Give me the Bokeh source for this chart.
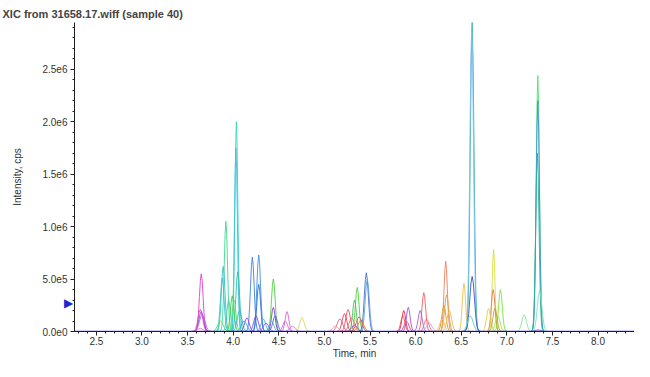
from bokeh.plotting import figure
from bokeh.models import FixedTicker, Label, ColumnDataSource, Range1d
from bokeh.embed import file_html
from bokeh.resources import INLINE

TITLE = "XIC from 31658.17.wiff (sample 40)"
X_LABEL = "Time, min"
Y_LABEL = "Intensity, cps"

X_TICKS = [2.5, 3.0, 3.5, 4.0, 4.5, 5.0, 5.5, 6.0, 6.5, 7.0, 7.5, 8.0]
X_TICK_LABELS = ["2.5", "3.0", "3.5", "4.0", "4.5", "5.0", "5.5", "6.0", "6.5", "7.0", "7.5", "8.0"]
X_MINOR = [round(2.3 + 0.1 * i, 1) for i in range(63)]
Y_TICKS = [0, 500000, 1000000, 1500000, 2000000, 2500000]
Y_TICK_LABELS = ["0.0e0", "5.0e5", "1.0e6", "1.5e6", "2.0e6", "2.5e6"]
Y_MINOR = [100000 * i for i in range(30)]

# retention time (min), apex intensity (cps), peak width (min), trace colour
PEAK_TIME = [3.65, 3.64, 3.65, 3.66, 3.64,
             3.92, 3.89, 3.88, 3.86, 3.95,
             4.035, 4.03, 4.05, 3.99, 4.01, 4.07,
             4.21, 4.28, 4.28, 4.15, 4.25, 4.33, 4.12, 4.36,
             4.44, 4.44, 4.46, 4.42,
             4.59, 4.57, 4.755, 4.65,
             5.17, 5.26, 5.22, 5.30, 5.36, 5.33, 5.46, 5.47, 5.40, 5.38, 5.33, 5.12,
             5.87, 5.86, 5.92, 5.90,
             6.09, 6.05, 6.12, 6.15,
             6.33, 6.34, 6.31, 6.37, 6.29,
             6.53, 6.62, 6.615, 6.62, 6.60,
             6.855, 6.85, 6.93, 6.80, 6.87, 6.90,
             7.19, 7.34, 7.34, 7.335, 7.36, 7.34]
PEAK_HEIGHT = [550000, 210000, 190000, 160000, 30000,
               1050000, 620000, 510000, 100000, 300000,
               2000000, 1750000, 570000, 340000, 300000, 200000,
               710000, 730000, 450000, 130000, 150000, 120000, 100000, 80000,
               500000, 230000, 150000, 100000,
               190000, 100000, 130000, 50000,
               120000, 210000, 170000, 130000, 420000, 300000, 560000, 500000, 110000, 140000, 60000, 50000,
               200000, 150000, 230000, 100000,
               370000, 200000, 120000, 80000,
               670000, 350000, 250000, 200000, 120000,
               460000, 2950000, 2900000, 525000, 150000,
               785000, 400000, 400000, 220000, 220000, 150000,
               160000, 2440000, 2200000, 1700000, 390000, 15000]
PEAK_WIDTH = [0.02, 0.025, 0.025, 0.03, 0.03,
              0.018, 0.02, 0.02, 0.03, 0.02,
              0.016, 0.016, 0.02, 0.02, 0.02, 0.025,
              0.02, 0.02, 0.02, 0.025, 0.025, 0.025, 0.03, 0.03,
              0.02, 0.02, 0.025, 0.025,
              0.02, 0.025, 0.025, 0.03,
              0.03, 0.025, 0.025, 0.03, 0.02, 0.02, 0.022, 0.022, 0.03, 0.03, 0.03, 0.03,
              0.02, 0.022, 0.02, 0.025,
              0.02, 0.022, 0.025, 0.03,
              0.018, 0.022, 0.022, 0.025, 0.025,
              0.018, 0.02, 0.02, 0.025, 0.03,
              0.015, 0.02, 0.02, 0.022, 0.022, 0.025,
              0.025, 0.018, 0.018, 0.018, 0.025, 0.03]
PEAK_COLOR = ["#e040d0", "#d050c0", "#a040d0", "#c060e0", "#f080a0",
              "#40d890", "#30c8c0", "#40c0d0", "#60e060", "#40d0a0",
              "#30d8c0", "#40c0e0", "#30c0a0", "#40d040", "#60e080", "#40b0e0",
              "#4080e0", "#4090e8", "#3070d0", "#a040e0", "#8050e0", "#60a0f0", "#30b0e0", "#9060e0",
              "#50d040", "#8040d0", "#6060e0", "#40c0c0",
              "#e060d0", "#d070e0", "#e0d060", "#c080f0",
              "#f06080", "#f05070", "#e04060", "#f07060", "#50d040", "#40c060", "#4070d0", "#60a0e0",
              "#f08040", "#e05050", "#a050e0", "#f0a0a0",
              "#e03040", "#f05060", "#a050e0", "#e040a0",
              "#f06060", "#a060e0", "#e07080", "#c0a0f0",
              "#f08060", "#e0a040", "#d0a030", "#e0c050", "#f0c060",
              "#f0c050", "#30b0a0", "#80c0f0", "#4050c0", "#60d0b0",
              "#d8e040", "#e08040", "#80e040", "#e0d060", "#c0a040", "#a0e050",
              "#90e0a0", "#50e070", "#4090e0", "#30b0a0", "#80e0c0", "#8050d0"]

# normalised peak profile (offset in widths, relative intensity)
PROFILE_OFFSET = [-4.0, -3.0, -2.5, -2.0, -1.5, -1.0, -0.5, 0.0, 0.5, 1.0, 1.5, 2.0, 2.5, 3.0, 4.0]
PROFILE_SHAPE = [0.0, 0.011, 0.044, 0.135, 0.325, 0.607, 0.882, 1.0, 0.882, 0.607, 0.325, 0.135, 0.044, 0.011, 0.0]

BASELINE_TIME = [2.26, 8.40]
BASELINE_INT = [0, 0]
BASELINE_COLOR = "#3a3ad0"

ARROW_INT = 267000

xs, ys = [], []
for t, h, w in zip(PEAK_TIME, PEAK_HEIGHT, PEAK_WIDTH):
    xs.append([t + o * w for o in PROFILE_OFFSET])
    ys.append([h * s for s in PROFILE_SHAPE])
src = ColumnDataSource(dict(xs=xs, ys=ys, color=PEAK_COLOR))

p = figure(width=634, height=361, output_backend="svg", toolbar_location=None,
           x_range=Range1d(2.26, 8.40), y_range=Range1d(0, 2946000),
           min_border_left=74, min_border_right=0, min_border_top=22, min_border_bottom=0)

p.title.text = TITLE
p.title.text_font = "Liberation Sans"
p.title.text_font_size = "11px"
p.title.text_font_style = "bold"
p.title.align = "left"
p.title.offset = -72
p.title.standoff = 5

p.multi_line(xs="xs", ys="ys", line_color="color", line_width=1, line_alpha=0.9, source=src)
p.line(BASELINE_TIME, BASELINE_INT, line_color=BASELINE_COLOR, line_width=1.5)

p.xgrid.visible = False
p.ygrid.visible = False
p.outline_line_color = None

p.xaxis.ticker = FixedTicker(ticks=X_TICKS, minor_ticks=X_MINOR)
p.xaxis.major_label_overrides = {t: l for t, l in zip(X_TICKS, X_TICK_LABELS)}
p.yaxis.ticker = FixedTicker(ticks=Y_TICKS, minor_ticks=Y_MINOR)
p.yaxis.major_label_overrides = {t: l for t, l in zip(Y_TICKS, Y_TICK_LABELS)}

for ax in (p.xaxis, p.yaxis):
    ax.axis_line_color = "#202020"
    ax.major_tick_line_color = "#202020"
    ax.minor_tick_line_color = "#202020"
    ax.major_tick_out = 4
    ax.major_tick_in = 0
    ax.minor_tick_out = 2
    ax.minor_tick_in = 0
    ax.major_label_text_font = "Liberation Sans"
    ax.major_label_text_font_size = "10px"
    ax.major_label_text_color = "#333333"
    ax.axis_label_text_font = "Liberation Sans"
    ax.axis_label_text_font_size = "10px"
    ax.axis_label_text_font_style = "normal"
    ax.axis_label_text_color = "#333333"

p.xaxis.major_label_standoff = 1
p.yaxis.major_label_standoff = 3
p.xaxis.axis_label = X_LABEL
p.yaxis.axis_label = Y_LABEL
p.xaxis.axis_label_standoff = 0
p.yaxis.axis_label_standoff = 16

arrow = Label(x=68, y=ARROW_INT, x_units="screen", text="\u25b6", text_color="#1a2ad0",
              text_font="DejaVu Sans", text_font_size="12px",
              text_align="center", text_baseline="middle")
p.add_layout(arrow, "left")

open("out.html", "w").write(file_html(p, INLINE))
